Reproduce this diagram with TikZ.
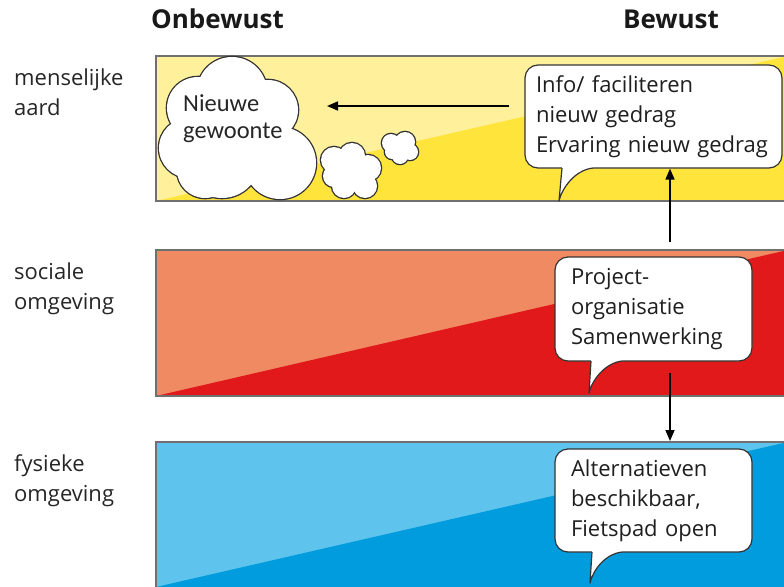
\documentclass[tikz,border=0pt]{standalone}
\usepackage{fontspec}
\setmainfont{Open Sans}
\newfontfamily\cloudfont{Carlito}
\usetikzlibrary{arrows.meta}

\definecolor{yelLight}{HTML}{FFF19C}
\definecolor{yelDark}{HTML}{FFE43C}
\definecolor{redLight}{HTML}{EF8A62}
\definecolor{redDark}{HTML}{E1191B}
\definecolor{bluLight}{HTML}{5EC4EE}
\definecolor{bluDark}{HTML}{009CDD}
\definecolor{bandEdge}{HTML}{707070}
\definecolor{inkLine}{HTML}{333333}

\tikzset{
  bandedge/.style={draw=bandEdge, line width=1.3pt},
  bubble/.style={draw=inkLine, line width=1.2pt, fill=white, rounded corners=13pt,
    align=left, inner ysep=0pt, font=\fontsize{22}{30}\selectfont, text=black!88},
  tailfill/.style={fill=white},
  tailline/.style={draw=inkLine, line width=1.2pt, line join=round},
  rowlabel/.style={anchor=base west, align=left, inner sep=0pt,
    font=\fontsize{22}{30}\selectfont, text=black!85},
  header/.style={anchor=base, inner sep=0pt, font=\fontsize{26}{30}\selectfont\bfseries, text=black!90},
  flow/.style={draw=black, line width=1.6pt, -{Triangle[length=11pt,width=9pt]}},
  cloudedge/.style={draw=inkLine, line width=2.6pt},
}

\begin{document}
\begin{tikzpicture}[x=1pt,y=-1pt]
\useasboundingbox (0,0) rectangle (784,586);

% ---- yellow band: menselijke aard
\fill[yelLight] (156,56) rectangle (790,201);
\fill[yelDark] (156,201) -- (790,55.5) -- (790,201) -- cycle;
\draw[bandedge] (790,56) -- (156,56) -- (156,201) -- (790,201);

% ---- red band: sociale omgeving
\fill[redLight] (156,250) rectangle (790,396);
\fill[redDark] (156,396) -- (790,249.5) -- (790,396) -- cycle;
\draw[bandedge] (790,250) -- (156,250) -- (156,396) -- (790,396);

% ---- blue band: fysieke omgeving
\fill[bluLight] (156,442) rectangle (790,600);
\fill[bluDark] (156,587) -- (790,441.5) -- (790,600) -- (156,600) -- cycle;
\draw[bandedge] (790,442) -- (156,442) -- (156,600);

% ---- column headers
\node[header] (hOn) at (217.5,29) {Onbewust};
\node[header] (hBe) at (671,29) {Bewust};

% ---- row labels (anchored at the baseline of the last line)
\node[rowlabel] (lMens) at (14,115) {menselijke\\aard};
\node[rowlabel] (lSoc) at (14,309) {sociale\\omgeving};
\node[rowlabel] (lFys) at (14,501) {fysieke\\omgeving};

% ---- clouds: outline of the union first, white fill on top
\def\cloudparts{232/92/35, 198/108/31, 189/148/30, 268/110/30, 280/163/36, 222/160/38, 235/130/40, 205/170/28,
                334/160/13, 352/156/13, 368/168/13, 365/186/12, 344/186/12, 334/176/11, 352/172/16,
                391/143/9, 405/142/10, 410/152/8, 400/156/8, 392/152/7, 400/148/10}
\foreach \cx/\cy/\r in \cloudparts
  \draw[cloudedge] (\cx,\cy) circle[radius=\r];
\foreach \cx/\cy/\r in \cloudparts
  \fill[white] (\cx,\cy) circle[radius=\r];
\node[anchor=base west, align=left, inner sep=0pt, font=\cloudfont\fontsize{24.5}{27}\selectfont, text=black!85]
  (cloudTxt) at (183,138) {Nieuwe\\gewoonte};

% ---- speech bubbles
\node[bubble, minimum width=257pt, minimum height=103pt, text width=235pt, inner xsep=11pt]
  (bMens) at (653.5,116.5) {Info/ faciliteren\\nieuw gedrag\\Ervaring nieuw gedrag};
\fill[tailfill] (562,165) -- (562,168) -- (559,201) .. controls (562,188) and (575,170) .. (593,168) -- (593,165) -- cycle;
\draw[tailline] (562,168) -- (559,201) .. controls (562,188) and (575,170) .. (593,168);

\node[bubble, minimum width=197pt, minimum height=104pt, text width=165pt, inner xsep=16pt]
  (bSoc) at (653.5,309) {Project-\\organisatie\\Samenwerking};
\fill[tailfill] (591,358) -- (591,361) -- (589,393) .. controls (592,380) and (605,363) .. (622,361) -- (622,358) -- cycle;
\draw[tailline] (591,361) -- (589,393) .. controls (592,380) and (605,363) .. (622,361);

\node[bubble, minimum width=197pt, minimum height=103pt, text width=165pt, inner xsep=16pt]
  (bFys) at (653.5,500.5) {Alternatieven\\beschikbaar,\\Fietspad open};
\fill[tailfill] (592,549) -- (592,552) -- (590,583) .. controls (593,570) and (605,554) .. (622,552) -- (622,549) -- cycle;
\draw[tailline] (592,552) -- (590,583) .. controls (593,570) and (605,554) .. (622,552);

% ---- connectors
\coordinate (hStart) at (509,106);
\coordinate (hEnd) at (327,106);
\draw[flow] (hStart) -- (hEnd);

\coordinate (upStart) at (670,242);
\draw[flow] (upStart) -- (upStart |- bMens.south);

\coordinate (downStart) at (670,373);
\coordinate (downEnd) at (670,441);
\draw[flow] (downStart) -- (downEnd);
\end{tikzpicture}
\end{document}
